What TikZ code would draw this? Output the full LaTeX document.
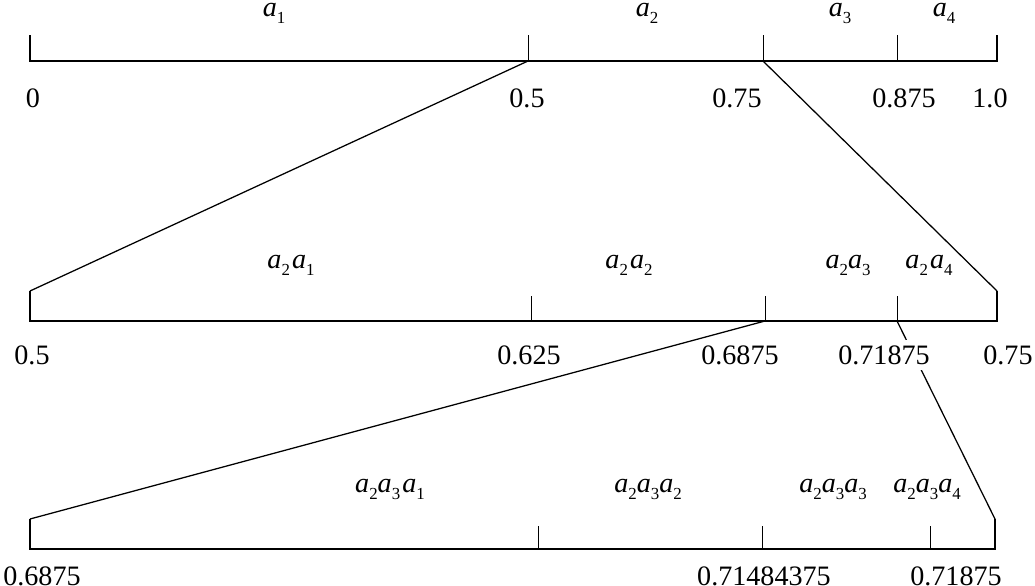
\documentclass[tikz,border=0pt]{standalone}
\usepackage{fontspec}
\setmainfont{Liberation Serif}
% symbol a with a lowered index
\newcommand{\sy}[1]{\textit{a}\raisebox{-5pt}{\fontsize{12}{12}\selectfont #1}}

\begin{document}
\begin{tikzpicture}[x=0.025cm, y=-0.025cm,
  axis/.style={line width=1.4pt},
  tick/.style={line width=0.6pt},
  link/.style={line width=0.9pt},
  num/.style={anchor=base, inner sep=0pt, font=\fontsize{20}{24}\selectfont},
  sym/.style={anchor=base, inner sep=0pt, font=\fontsize{20}{24}\selectfont}]
\useasboundingbox (0,0) rectangle (1035,586);

% first interval [0,1)
\coordinate (A0) at (30,61);  \coordinate (A0t) at (30,35);
\coordinate (A1) at (528,61);
\coordinate (A2) at (763,61);
\coordinate (A3) at (897,61);
\coordinate (A4) at (997,61); \coordinate (A4t) at (997,35);
\draw[axis] (A0t) -- (A0) -- (A4) -- (A4t);
\draw[tick] (A1) -- ++(0,-26);
\draw[tick] (A2) -- ++(0,-26);
\draw[tick] (A3) -- ++(0,-26);

% second interval [0.5,0.75)
\coordinate (B0) at (30,321);  \coordinate (B0t) at (30,291);
\coordinate (B1) at (531,321);
\coordinate (B2) at (765,321);
\coordinate (B3) at (897,321);
\coordinate (B4) at (997,321); \coordinate (B4t) at (997,291);
\draw[axis] (B0t) -- (B0) -- (B4) -- (B4t);
\draw[tick] (B1) -- ++(0,-25);
\draw[tick] (B2) -- ++(0,-25);
\draw[tick] (B3) -- ++(0,-25);

% third interval [0.6875,0.71875)
\coordinate (C0) at (30,549);  \coordinate (C0t) at (30,519);
\coordinate (C1) at (538,549);
\coordinate (C2) at (762,549);
\coordinate (C3) at (930,549);
\coordinate (C4) at (995,549); \coordinate (C4t) at (995,519);
\draw[axis] (C0t) -- (C0) -- (C4) -- (C4t);
\draw[tick] (C1) -- ++(0,-23);
\draw[tick] (C2) -- ++(0,-23);
\draw[tick] (C3) -- ++(0,-23);

% zoom lines
\draw[link] (A1) -- (B0t);
\draw[link] (A2) -- (B4t);
\draw[link] (B2) -- (C0t);
\draw[link] (B3) -- (C4t);

% symbols
\node[sym] (s1) at (274,16) {\sy{1}};
\node[sym] (s2) at (647,16) {\sy{2}};
\node[sym] (s3) at (840,16) {\sy{3}};
\node[sym] (s4) at (944,16) {\sy{4}};
\node[sym] (s21) at (291,268) {\sy{2}\kern1.5pt\sy{1}};
\node[sym] (s22) at (629,268) {\sy{2}\kern1.5pt\sy{2}};
\node[sym] (s23) at (848,268) {\sy{2}\sy{3}};
\node[sym] (s24) at (929,268) {\sy{2}\kern1.5pt\sy{4}};
\node[sym] (s231) at (390,492) {\sy{2}\sy{3}\kern1.5pt\sy{1}};
\node[sym] (s232) at (648,492) {\sy{2}\sy{3}\sy{2}};
\node[sym] (s233) at (833,492) {\sy{2}\sy{3}\sy{3}};
\node[sym] (s234) at (927,492) {\sy{2}\sy{3}\sy{4}};

% bounds
\node[num] (n0) at (33,107) {0};
\node[num] (n05) at (527,107) {0.5};
\node[num] (n075) at (737,107) {0.75};
\node[num] (n0875) at (904,107) {0.875};
\node[num] (n1) at (990,107) {1.0};
\node[num] (m05) at (32,364) {0.5};
\node[num] (m0625) at (529,364) {0.625};
\node[num] (m06875) at (740,364) {0.6875};
\node[num, fill=white, inner ysep=4pt] (m071875) at (884,364) {0.71875};
\node[num] (m075) at (1008,364) {0.75};
\node[num] (k06875) at (42,585) {0.6875};
\node[num] (k0714) at (764,585) {0.71484375};
\node[num] (k071875) at (956,585) {0.71875};
\end{tikzpicture}
\end{document}
